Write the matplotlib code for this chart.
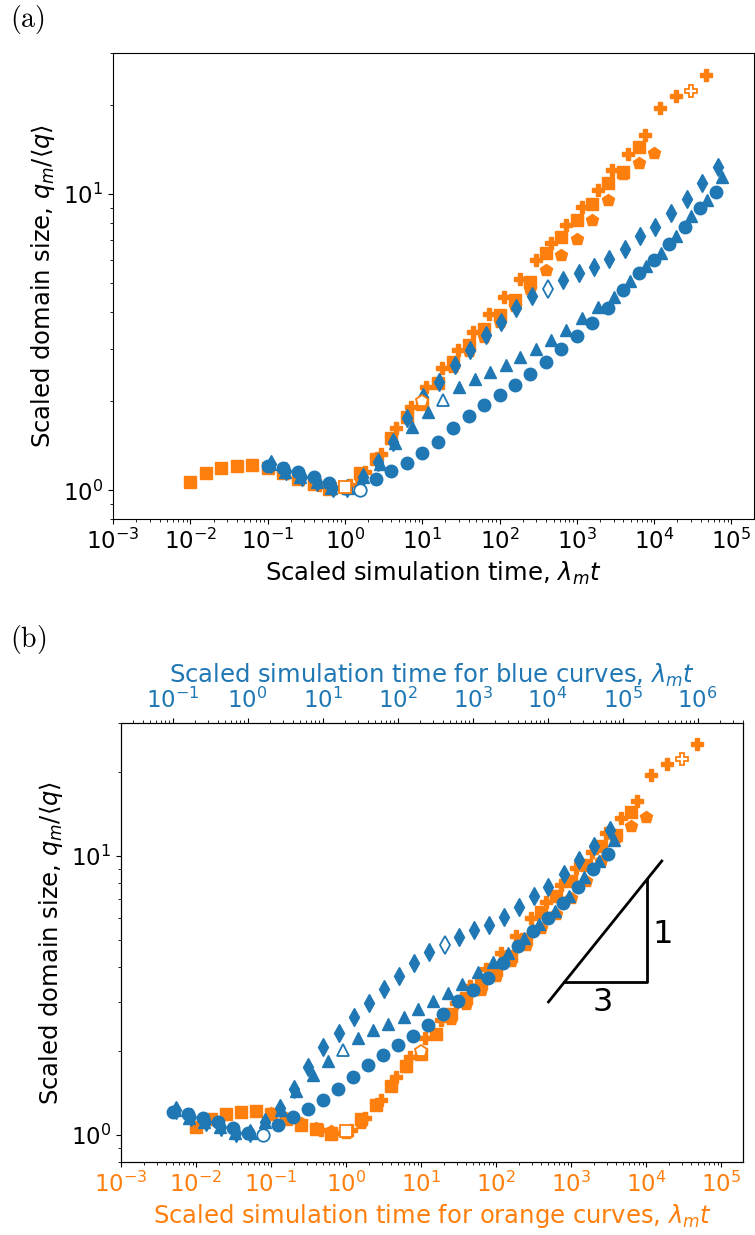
import matplotlib
matplotlib.use("Agg")
import matplotlib.pyplot as plt
from matplotlib.ticker import LogLocator, NullFormatter

BLUE = "#1f77b4"
ORANGE = "#ff7f0e"

# ---------------- data (scaled time, scaled domain size) ----------------
# orange squares
sq_x = [0.01, 0.0158, 0.0251, 0.0398, 0.0631, 0.1, 0.158, 0.251, 0.398, 0.631,
        1.0, 1.58, 2.51, 3.98, 6.31, 10, 15.8, 25.1, 39.8, 63.1,
        100, 158, 251, 398, 631, 1000, 1580, 2510, 3980, 6310]
sq_y = [1.07, 1.14, 1.19, 1.21, 1.22, 1.19, 1.14, 1.09, 1.05, 1.01,
        1.03, 1.14, 1.28, 1.50, 1.77, 1.95, 2.3, 2.71, 3.1, 3.5,
        3.9, 4.38, 5.06, 6.31, 7.17, 8.17, 9.3, 10.9, 11.9, 14.4]
sq_open = 10

# orange pentagons
pt_x = [0.1, 0.158, 0.251, 0.398, 0.631, 1.0, 1.58, 2.51, 3.98, 6.31,
        10, 15.8, 25.1, 39.8, 63.1, 100, 158, 251, 398, 631,
        1000, 1580, 2510, 3980, 6310, 10000]
pt_y = [1.2, 1.15, 1.1, 1.06, 1.03, 1.02, 1.1, 1.28, 1.5, 1.75,
        2.0, 2.3, 2.6, 2.95, 3.3, 3.7, 4.2, 4.8, 5.54, 6.22,
        7.08, 8.17, 9.6, 11.7, 12.8, 13.8]
pt_open = 10

# orange filled plus
pl_x = [0.46, 0.72, 1.15, 1.8, 2.9, 4.6, 7.2, 11.3, 18.2, 29,
        45, 73, 116, 182, 293, 468, 731, 1178, 1875, 2880,
        4580, 7530, 11800, 18970, 30250, 47300]
pl_y = [1.04, 1.02, 1.04, 1.15, 1.33, 1.62, 1.91, 2.23, 2.58, 2.97,
        3.43, 3.95, 4.50, 5.19, 5.98, 6.85, 7.85, 9.06, 10.3, 12.1,
        13.7, 15.8, 19.6, 21.4, 22.3, 25.2]
pl_open = 24

# blue circles
ci_x = [0.1, 0.158, 0.251, 0.398, 0.631, 1.0, 1.58, 2.51, 3.98, 6.31,
        10, 15.8, 25.1, 39.8, 63.1, 100, 158, 251, 398, 631,
        1000, 1580, 2510, 3980, 6310, 10000, 15800, 25100, 39800, 63100]
ci_y = [1.21, 1.19, 1.15, 1.11, 1.06, 1.02, 1.0, 1.09, 1.16, 1.24,
        1.34, 1.46, 1.62, 1.78, 1.94, 2.10, 2.27, 2.48, 2.71, 3.01,
        3.32, 3.66, 4.14, 4.76, 5.40, 5.98, 6.78, 7.76, 9.02, 10.2]
ci_open = 6

# blue triangles
tr_x = [0.106, 0.166, 0.26, 0.43, 0.67, 1.1, 1.71, 2.81, 4.4, 7.4,
        11.9, 18.5, 29.9, 47.6, 74.5, 120, 186, 293, 468, 731,
        1178, 1875, 2990, 4820, 7760, 12400, 19400, 30300, 48200, 76200]
tr_y = [1.23, 1.15, 1.11, 1.07, 1.02, 1.02, 1.11, 1.23, 1.44, 1.64,
        1.84, 2.02, 2.23, 2.38, 2.51, 2.64, 2.82, 3.01, 3.23, 3.49,
        3.83, 4.16, 4.50, 5.09, 5.71, 6.34, 7.21, 8.43, 9.6, 11.4]
tr_open = 11

# blue thin diamonds
di_x = [0.11, 0.175, 0.28, 0.44, 0.70, 1.07, 1.7, 2.7, 4.2, 6.34,
        10.2, 16.4, 26.2, 41, 66, 105, 165, 265, 423, 661,
        1054, 1650, 2600, 4150, 6620, 10200, 16700, 26500, 42000, 66800]
di_y = [1.23, 1.16, 1.11, 1.065, 1.02, 1.02, 1.11, 1.25, 1.46, 1.75,
        2.07, 2.32, 2.64, 2.97, 3.34, 3.70, 4.14, 4.52, 4.8, 5.12,
        5.42, 5.68, 6.06, 6.55, 7.21, 7.76, 8.65, 9.67, 10.9, 12.4]
di_open = 18

orange_series = [(sq_x, sq_y, "s", sq_open), (pt_x, pt_y, "p", pt_open),
                 (pl_x, pl_y, "P", pl_open)]
blue_series = [(ci_x, ci_y, "o", ci_open), (tr_x, tr_y, "^", tr_open),
               (di_x, di_y, "d", di_open)]

# slope triangle (panel b, bottom-axis coordinates)
slope_line_x = [500, 16200]
slope_line_y = [3.0, 9.6]
tri_x = [814, 10200, 10200]
tri_y = [3.53, 3.53, 8.27]

XLIM = (1e-3, 1.96e5)
XLIM_TOP = (0.0205, 4.02e6)
YLIM = (0.8, 30)

FS_TICK = 16.5
FS_LABEL = 17.5
MS = 9

W, H = 755, 1235
fig = plt.figure(figsize=(W / 100, H / 100), dpi=100)


def rect(l, t, r, b):
    return [l / W, 1 - b / H, (r - l) / W, (b - t) / H]


def plot_series(ax, series, color, zo):
    for xs, ys, m, k in series:
        xf = [x for i, x in enumerate(xs) if i != k]
        yf = [y for i, y in enumerate(ys) if i != k]
        ax.plot(xf, yf, ls="none", marker=m, ms=MS, color=color, zorder=zo)


def plot_open(ax, series, color):
    for xs, ys, m, k in series:
        ax.plot([xs[k]], [ys[k]], ls="none", marker=m, ms=MS, mfc="white",
                mec=color, mew=1.3, zorder=10)


def style_log(ax):
    ax.set_xscale("log")
    ax.set_yscale("log")
    ax.xaxis.set_major_locator(LogLocator(base=10, numticks=30))
    ax.xaxis.set_minor_locator(LogLocator(base=10, subs=range(2, 10), numticks=30))
    ax.xaxis.set_minor_formatter(NullFormatter())
    ax.tick_params(labelsize=FS_TICK)


# ---------------- panel (a) ----------------
axa = fig.add_axes(rect(113, 53, 754, 519))
style_log(axa)
plot_series(axa, orange_series, ORANGE, 3)
plot_series(axa, blue_series, BLUE, 4)
plot_open(axa, orange_series, ORANGE)
plot_open(axa, blue_series, BLUE)
axa.set_xlim(*XLIM)
axa.set_ylim(*YLIM)
axa.set_xlabel(r"Scaled simulation time, $\lambda_m t$", fontsize=FS_LABEL)
axa.set_ylabel(r"Scaled domain size, $q_m/\langle q\rangle$", fontsize=FS_LABEL)

# ---------------- panel (b) ----------------
axb = fig.add_axes(rect(121, 723, 743, 1162))
style_log(axb)
plot_series(axb, orange_series, ORANGE, 3)
plot_open(axb, orange_series, ORANGE)
axb.plot(slope_line_x, slope_line_y, color="black", lw=2, zorder=2)
axb.plot(tri_x, tri_y, color="black", lw=2, zorder=2)
axb.text(16900, 5.25, "1", fontsize=23, ha="center", va="center")
axb.text(2650, 2.99, "3", fontsize=23, ha="center", va="center")
axb.set_xlim(*XLIM)
axb.set_ylim(*YLIM)
axb.set_xlabel(r"Scaled simulation time for orange curves, $\lambda_m t$",
               fontsize=FS_LABEL, color=ORANGE)
axb.set_ylabel(r"Scaled domain size, $q_m/\langle q\rangle$", fontsize=FS_LABEL)
axb.tick_params(axis="x", labelcolor=ORANGE)

axt = axb.twiny()
style_log(axt)
plot_series(axt, blue_series, BLUE, 4)
plot_open(axt, blue_series, BLUE)
axt.set_xlim(*XLIM_TOP)
axt.set_ylim(*YLIM)
axt.set_xlabel(r"Scaled simulation time for blue curves, $\lambda_m t$",
               fontsize=FS_LABEL, color=BLUE)
axt.tick_params(axis="x", labelcolor=BLUE)

# panel letters
fig.text(10 / W, 1 - 20 / H, r"$\mathrm{(a)}$", fontsize=20, va="center",
         ha="left", math_fontfamily="cm")
fig.text(10 / W, 1 - 640 / H, r"$\mathrm{(b)}$", fontsize=20, va="center",
         ha="left", math_fontfamily="cm")

fig.savefig("out.png", dpi=100)
